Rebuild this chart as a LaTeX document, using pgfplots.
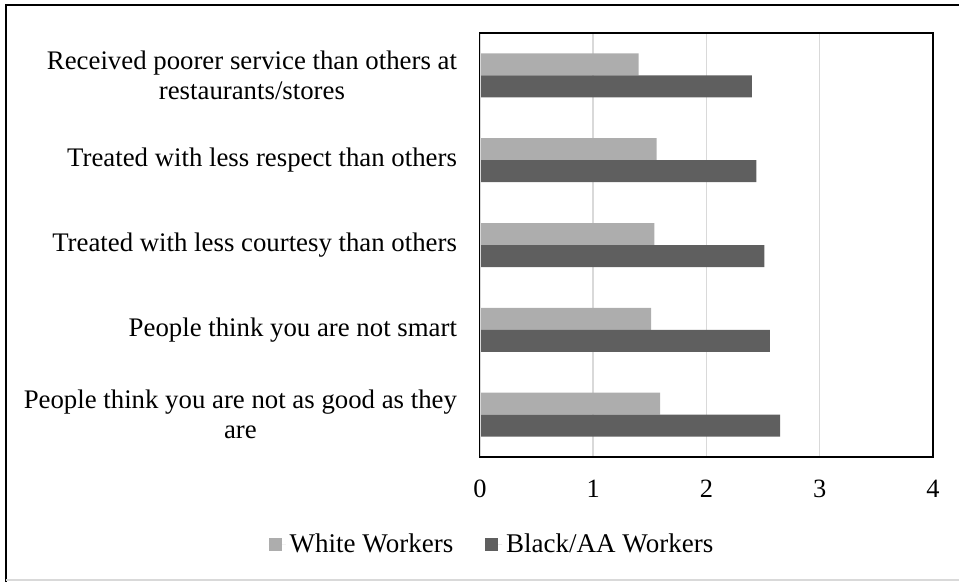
\documentclass[border=0pt]{standalone}
\usepackage{pgfplots}
\pgfplotsset{compat=1.18}
\usepackage{fontspec}
\setmainfont{Liberation Serif}
\definecolor{lightbar}{RGB}{173,173,173}
\definecolor{darkbar}{RGB}{95,95,95}
\definecolor{gridc}{RGB}{217,217,217}
\begin{document}
\begin{tikzpicture}
\useasboundingbox (0bp,0bp) rectangle (479.5bp,-291bp);
\draw[line width=1bp] (3bp,-291bp) -- (3bp,-2.5bp) -- (479.5bp,-2.5bp);
\draw[gridc, line width=0.75bp] (3bp,-290bp) -- (479.5bp,-290bp);
\begin{axis}[
  at={(240bp,-228.5bp)}, anchor=south west,
  scale only axis, width=226.5bp, height=212bp,
  xbar, bar width=11bp,
  xmin=0, xmax=4, ymin=-0.5, ymax=4.5,
  xtick={0,1,2,3,4}, ytick={0,1,2,3,4},
  yticklabels={{People think you are not as good as they\\are},
               {People think you are not smart},
               {Treated with less courtesy than others},
               {Treated with less respect than others},
               {Received poorer service than others at\\restaurants/stores}},
  yticklabel style={align=center, font=\fontsize{13.4bp}{15bp}\selectfont, xshift=-8bp},
  xticklabel style={font=\fontsize{13.2bp}{15bp}\selectfont, yshift=-8bp},
  /pgf/number format/assume math mode=true,
  major tick length=0pt,
  xmajorgrids, grid style={gridc, line width=0.75bp},
  axis line style={black, line width=0.75bp},
  legend style={at={(0.0287,-0.2075)}, anchor=center, draw=none,
    legend columns=2, font=\fontsize{13.5bp}{15bp}\selectfont,
    /tikz/every even column/.append style={column sep=14bp}},
  legend image code/.code={\fill[#1,draw=none] (0bp,-3.25bp) rectangle (6.5bp,3.25bp);
    \path (0bp,0bp) -- (8.5bp,0bp);},
]
\addplot[fill=lightbar, draw=none, bar shift=5.5bp] coordinates {
  (1.59,0) (1.51,1) (1.54,2) (1.56,3) (1.40,4)};
\addlegendentry{White Workers}
\addplot[fill=darkbar, draw=none, bar shift=-5.5bp] coordinates {
  (2.65,0) (2.56,1) (2.51,2) (2.44,3) (2.40,4)};
\addlegendentry{Black/AA Workers}
\draw[gridc, line width=1bp] (rel axis cs:0,0.002) -- (rel axis cs:0,0.998);
\end{axis}
\end{tikzpicture}
\end{document}
